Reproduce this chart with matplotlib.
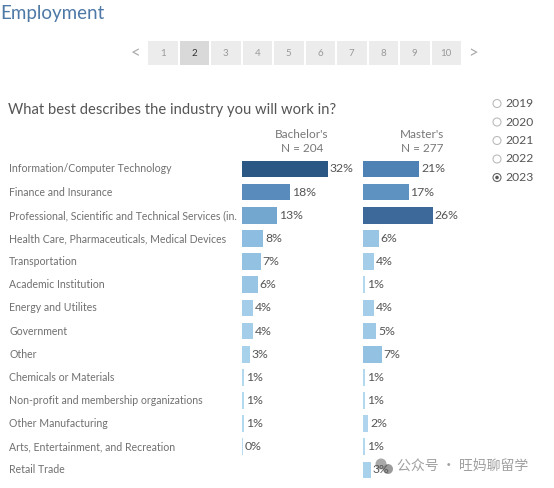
import matplotlib
matplotlib.use("Agg")
import matplotlib.pyplot as plt
from matplotlib.colors import LinearSegmentedColormap
from matplotlib.patches import Rectangle, Circle
import matplotlib.transforms as mtrans

# ---------------- data ----------------
categories = [
    "Information/Computer Technology",
    "Finance and Insurance",
    "Professional, Scientific and Technical Services (in.",
    "Health Care, Pharmaceuticals, Medical Devices",
    "Transportation",
    "Academic Institution",
    "Energy and Utilites",
    "Government",
    "Other",
    "Chemicals or Materials",
    "Non-profit and membership organizations",
    "Other Manufacturing",
    "Arts, Entertainment, and Recreation",
    "Retail Trade",
]
bachelors = [32, 18, 13, 8, 7, 6, 4, 4, 3, 1, 1, 1, 0.4, None]
masters = [21, 17, 26, 6, 4, 1, 4, 5, 7, 1, 1, 2, 1, 3]
series_titles = ["Bachelor's\nN = 204", "Master's\nN = 277"]
years = ["2019", "2020", "2021", "2022", "2023"]
selected_year = "2023"
pages = [str(i) for i in range(1, 11)]
current_page = "2"

W, H = 554, 488
fig = plt.figure(figsize=(W / 100, H / 100), dpi=100)
fig.patch.set_facecolor("white")

FONT = "Lato"

cmap = LinearSegmentedColormap.from_list(
    "tabblue",
    [(0.0, "#b9ddf1"), (0.25, "#8dbde0"), (0.41, "#73a7cf"), (0.56, "#5a8dbd"),
     (0.66, "#4f82b4"), (0.81, "#3d6a9b"), (1.0, "#2a5783")])
vmax = 32.0

# overlay axes in pixel coordinates for decorations
ov = fig.add_axes([0, 0, 1, 1])
ov.set_xlim(0, W)
ov.set_ylim(H, 0)
ov.axis("off")

# bar axes geometry (pixels)
row0 = 169.0
pitch = 23.15
n = len(categories)
top_px = row0 - pitch / 2
bot_px = row0 + pitch * (n - 0.5)
px_per_pct = 2.7
span_pct = 40
def make_ax(x0):
    ax = fig.add_axes([x0 / W, 1 - bot_px / H, span_pct * px_per_pct / W, (bot_px - top_px) / H])
    ax.set_xlim(0, span_pct)
    ax.set_ylim(n - 0.5, -0.5)
    ax.axis("off")
    return ax

ax_b = make_ax(241.7)
ax_m = make_ax(362.7)

for ax, vals in ((ax_b, bachelors), (ax_m, masters)):
    for i, v in enumerate(vals):
        if v is None:
            continue
        ax.barh(i, v, height=0.72, left=0, color=cmap(min(v / vmax, 1.0)),
                edgecolor="none")
        ax.text(v + 0.7, i, f"{round(v)}%", va="center", ha="left",
                fontsize=8.8, color="#555555", family=FONT)

# category labels
tr = mtrans.blended_transform_factory(ov.transData, ax_b.transData)
for i, c in enumerate(categories):
    ax_b.text(9, i, c, transform=tr, va="center", ha="left", fontsize=7.6,
              color="#707070", family=FONT)

# series headers
ov.text(302, 141.5, series_titles[0], ha="center", va="center", fontsize=8.5,
        color="#777777", family=FONT, linespacing=1.3)
ov.text(422, 141.5, series_titles[1], ha="center", va="center", fontsize=8.5,
        color="#777777", family=FONT, linespacing=1.3)

# titles
ov.text(0.5, 14, "Employment", ha="left", va="center", fontsize=13.5,
        color="#4e79a7", family=FONT)
ov.text(8, 110, "What best describes the industry you will work in?", ha="left",
        va="center", fontsize=10.6, color="#555555", family=FONT)

# pagination
ov.text(135, 53, "<", ha="center", va="center", fontsize=12, color="#aaaaaa", family=FONT)
ov.text(473, 53, ">", ha="center", va="center", fontsize=12, color="#aaaaaa", family=FONT)
for k, p in enumerate(pages):
    x0 = 148 + 31.5 * k
    sel = p == current_page
    ov.add_patch(Rectangle((x0, 41), 29.5, 24, facecolor="#d9d9d9" if sel else "#ececec",
                           edgecolor="none"))
    ov.text(x0 + 14.75, 53, p, ha="center", va="center", fontsize=7.0,
            color="#333333" if sel else "#999999", family=FONT)

# radio buttons
for k, y in enumerate(years):
    yy = 103.5 + 18.5 * k
    sel = y == selected_year
    ov.add_patch(Circle((497, yy), 4.0, facecolor="white",
                        edgecolor="#666666" if sel else "#bbbbbb", linewidth=0.8))
    if sel:
        ov.add_patch(Circle((497, yy), 1.8, facecolor="#555555", edgecolor="none"))
    ov.text(505, yy, y, ha="left", va="center", fontsize=8.7, color="#555555", family=FONT)

# watermark
ov.add_patch(Circle((381, 464), 5.5, facecolor="#9a9a9a", edgecolor="none", alpha=0.85))
ov.add_patch(Circle((388, 469), 5.0, facecolor="#8a8a8a", edgecolor="none", alpha=0.85))
ov.text(397, 466, "公众号 · 旺妈聊留学", ha="left", va="center", fontsize=10,
        color="#a0a0a0", family=["Noto Sans CJK SC", "DejaVu Sans"])

fig.savefig("out.png", dpi=100, facecolor="white")
